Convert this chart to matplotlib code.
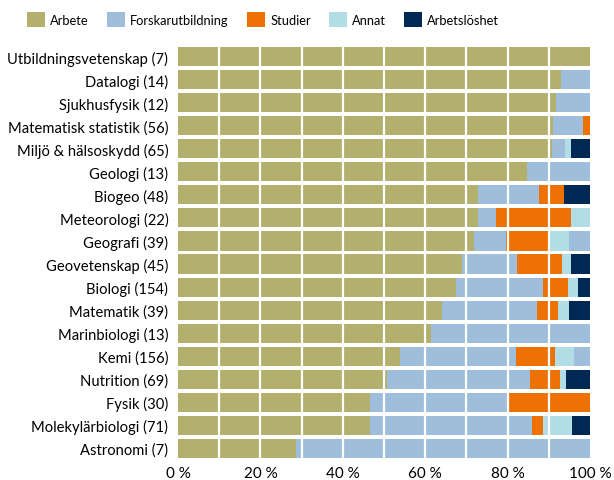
import matplotlib
matplotlib.use("Agg")
import matplotlib.pyplot as plt
import numpy as np
from matplotlib.patches import Patch

categories = ["Utbildningsvetenskap (7)", "Datalogi (14)", "Sjukhusfysik (12)",
              "Matematisk statistik (56)", "Miljö & hälsoskydd (65)", "Geologi (13)",
              "Biogeo (48)", "Meteorologi (22)", "Geografi (39)", "Geovetenskap (45)",
              "Biologi (154)", "Matematik (39)", "Marinbiologi (13)", "Kemi (156)",
              "Nutrition (69)", "Fysik (30)", "Molekylärbiologi (71)", "Astronomi (7)"]

arbete = [100, 92.9, 91.7, 91.1, 90.8, 84.6, 72.9, 72.7, 71.8, 68.9, 67.5, 64.1, 61.5, 53.8, 50.7, 46.7, 46.5, 28.6]
forskarutbildning = [0, 7.1, 8.3, 7.1, 3.1, 15.4, 14.6, 4.5, 7.7, 13.3, 21.1, 23.1, 38.5, 28.2, 34.8, 33.3, 39.4, 71.4]
studier = [0, 0, 0, 1.8, 0, 0, 6.25, 18.2, 10.3, 11.1, 6.0, 5.1, 0, 9.6, 7.2, 20.0, 2.8, 0]
annat = [0, 0, 0, 0, 1.5, 0, 0, 4.5, 5.1, 2.2, 2.5, 2.6, 0, 4.5, 1.4, 0, 7.0, 0]
arbetsloshet = [0, 0, 0, 0, 4.6, 0, 6.25, 0, 0, 4.4, 2.9, 5.1, 0, 0, 5.8, 0, 4.2, 0]
ovrigt = [0, 0, 0, 0, 0, 0, 0, 0, 5.1, 0, 0, 0, 0, 3.8, 0, 0, 0, 0]

series = ["Arbete", "Forskarutbildning", "Studier", "Annat", "Arbetslöshet"]
colors = ["#b2b06c", "#9ebedc", "#ee7203", "#b3dde5", "#002855"]
tick_vals = [0, 20, 40, 60, 80, 100]
tick_labels = ["0 %", "20 %", "40 %", "60 %", "80 %", "100 %"]

plt.rcParams['font.family'] = ['Lato', 'DejaVu Sans']

fig = plt.figure(figsize=(6.14, 4.81), dpi=100)
ax = fig.add_axes([178/614, 1-461/481, 412/614, 415/481])

y = np.arange(len(categories))
data = [arbete, forskarutbildning, studier, annat, arbetsloshet]
left = np.zeros(len(categories))
for vals, col in zip(data, colors):
    vals = np.array(vals)
    ax.barh(y, vals, left=left, color=col, height=0.83, zorder=2)
    left += vals
ax.barh(y, ovrigt, left=left, color=colors[1], height=0.83, zorder=2)

for gx in range(10, 100, 10):
    ax.axvline(gx, color="white", lw=1.6, zorder=3)

ax.set_xlim(0, 100)
ax.set_ylim(len(categories) - 0.5, -0.5)
ax.set_yticks(y)
ax.set_yticklabels(categories, fontsize=10.65)
ax.set_xticks(tick_vals)
ax.set_xticklabels(tick_labels, fontsize=11)
ax.tick_params(length=0, pad=4)
ax.tick_params(axis='y', pad=7)
for s in ax.spines.values():
    s.set_visible(False)

handles = [Patch(facecolor=c, edgecolor='none') for c in colors]
fig.legend(handles, series, loc='upper left', bbox_to_anchor=(18/614, 0.992), ncol=5,
           frameon=False, fontsize=9.3, handlelength=1.4, handleheight=1.4,
           handletextpad=0.4, columnspacing=1.4, borderaxespad=0.3)

fig.savefig("out.png", dpi=100)
